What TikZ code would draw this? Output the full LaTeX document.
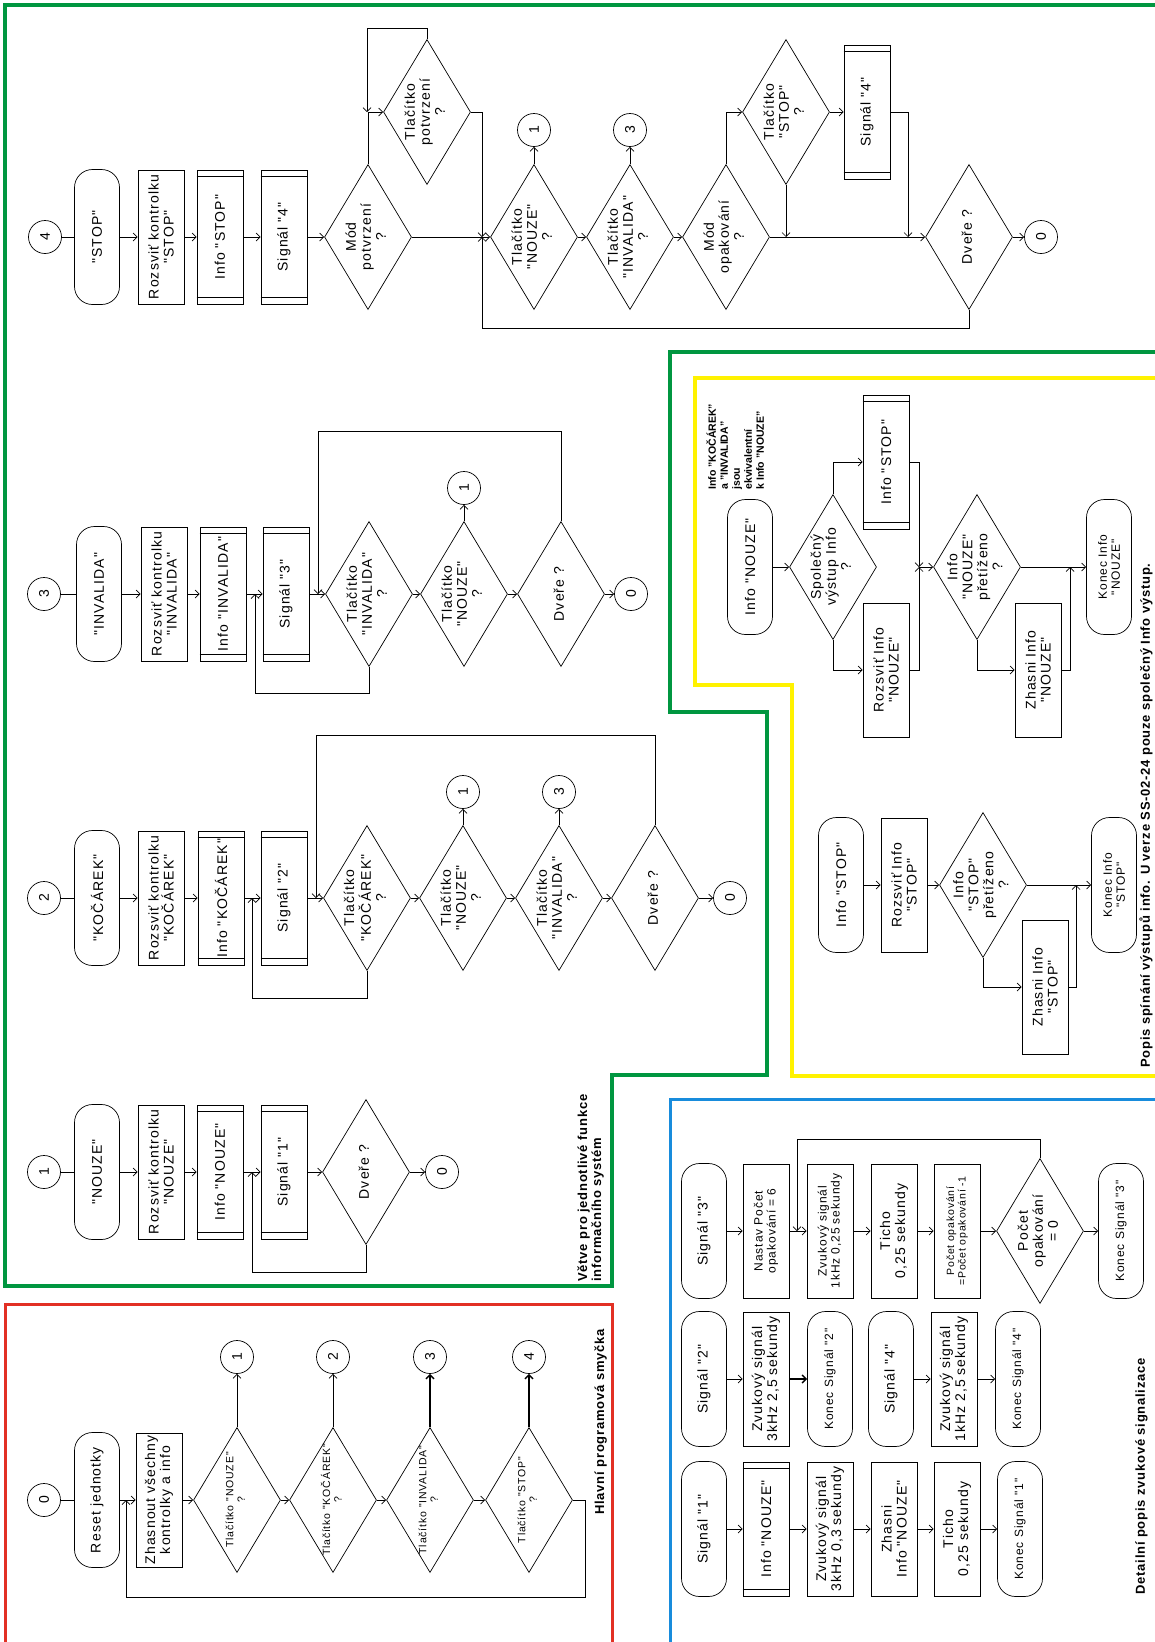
\documentclass[tikz,border=0pt]{standalone}
\usepackage{fontspec}
\setmainfont{Liberation Sans}
\newfontfamily\dfont{Liberation Sans}[LetterSpace=8.0]
\newfontfamily\lfont{Liberation Sans}[LetterSpace=6.0]
\usetikzlibrary{arrows.meta,shapes.geometric,calc}
\definecolor{branchgreen}{RGB}{0,150,64}
\definecolor{outyellow}{RGB}{255,242,0}
\definecolor{loopred}{RGB}{226,48,36}
\definecolor{soundblue}{RGB}{24,140,220}
\newcommand{\dtxt}[1]{\makebox[0pt]{\raisebox{-0.25em}[0pt][0pt]{\begin{tabular}{@{}c@{}}#1\end{tabular}}}}

\begin{document}
\begin{tikzpicture}[x=1pt, y=-1pt, line width=0.7pt,
    font=\dfont\fontsize{14}{15}\selectfont,
    shp/.style={draw, rotate=90, align=center, inner sep=1pt},
    term/.style={shp, rounded corners=18pt, minimum width=135pt, minimum height=45pt},
    proc/.style={shp, minimum width=134pt, minimum height=46pt, text width=132pt},
    pre/.style={proc, append after command={
        ($(\tikzlastnode.north west)!7pt!(\tikzlastnode.north east)$) edge ($(\tikzlastnode.south west)!7pt!(\tikzlastnode.south east)$)
        ($(\tikzlastnode.north east)!7pt!(\tikzlastnode.north west)$) edge ($(\tikzlastnode.south east)!7pt!(\tikzlastnode.south west)$)}},
    dec/.style={draw, diamond, rotate=90, minimum width=145pt, minimum height=87pt, inner sep=0pt},
    con/.style={draw, circle, rotate=90, minimum size=33pt, inner sep=0pt},
    arr/.style={-{Straight Barb[length=4pt,width=8pt]}},
    thk/.style={line width=1.5pt},
    sm/.style={font=\dfont\fontsize{12}{13}\selectfont},
    xs/.style={font=\dfont\fontsize{10.5}{11.5}\selectfont},
    lbl/.style={rotate=90, align=left, inner sep=0pt, font=\lfont\bfseries\fontsize{13}{14}\selectfont},
    note/.style={rotate=90, align=left, inner sep=0pt, font=\bfseries\fontsize{10.5}{12}\selectfont}]
  \useasboundingbox (0,0) rectangle (1155,1642);

  % frames
  \draw[branchgreen, line width=3.5pt] (1160,5) -- (5,5) -- (5,1286) -- (612,1286) -- (612,1075)
      -- (767,1075) -- (767,712) -- (670,712) -- (670,352) -- (1160,352);
  \draw[outyellow, line width=3.5pt] (1160,378) -- (695,378) -- (695,685) -- (792,685) -- (792,1076) -- (1160,1076);
  \draw[loopred, line width=3pt] (612,1650) -- (612,1304) -- (5,1304) -- (5,1650);
  \draw[soundblue, line width=3pt] (1160,1099) -- (670,1099) -- (670,1650);

  % STOP
  \node[con] (c4) at (45,237) {4};
  \node[term] (t4) at (97,237) {"STOP"};
  \node[proc] (r4) at (161,237) {Rozsviť kontrolku\\"STOP"};
  \node[pre] (i4) at (220,237) {Info "STOP"};
  \node[pre] (s4) at (284,237) {Signál "4"};
  \node[dec] (mp4) at (368,237) {\dtxt{Mód\\potvrzení\\?}};
  \node[dec] (tp4) at (427,112) {\dtxt{Tlačítko\\potvrzení\\?}};
  \node[dec] (tn4) at (534,237) {\dtxt{Tlačítko\\"NOUZE"\\?}};
  \node[con] (c41) at (534,130) {1};
  \node[dec] (ti4) at (630,237) {\dtxt{Tlačítko\\"INVALIDA"\\?}};
  \node[con] (c43) at (630,130) {3};
  \node[dec] (mo4) at (726,237) {\dtxt{Mód\\opakování\\?}};
  \node[dec] (ts4) at (786,112) {\dtxt{Tlačítko\\"STOP"\\?}};
  \node[pre] (s4b) at (867,112) {Signál "4"};
  \node[dec] (dv4) at (969,237) {\dtxt{Dveře ?}};
  \node[con] (c40) at (1041,237) {0};
  \coordinate (j4a) at (482,237);
  \coordinate (j4b) at (367,112);
  \coordinate (j4c) at (908,237);
  \draw (c4) -- (t4);
  \draw[arr] (t4) -- (r4);
  \draw[arr] (r4) -- (i4);
  \draw[arr] (i4) -- (s4);
  \draw[arr] (s4) -- (mp4);
  \draw[arr] (mp4.east) |- (tp4.north);
  \draw[arr] (tp4.east) -- ++(0,-11) -| (j4b);
  \draw[arr] (tp4.south) -| (j4a);
  \draw[arr] (mp4) -- (tn4);
  \draw[arr] (dv4.west) -- ++(0,18) -| (j4a);
  \draw[arr] (tn4) -- (c41);
  \draw[arr] (tn4) -- (ti4);
  \draw[arr] (ti4) -- (c43);
  \draw[arr] (ti4) -- (mo4);
  \draw[arr] (mo4.east) |- (ts4.north);
  \draw[arr] (ts4.west) -- (ts4.west |- mo4);
  \draw[arr] (ts4) -- (s4b);
  \draw[arr] (s4b) -| (j4c);
  \draw[arr] (mo4) -- (dv4);
  \draw[arr] (dv4) -- (c40);

  % INVALIDA
  \node[con] (c3) at (44,594) {3};
  \node[term] (t3) at (99,594) {"INVALIDA"};
  \node[proc] (r3) at (164,594) {Rozsviť kontrolku\\"INVALIDA"};
  \node[pre] (i3) at (223,594) {Info "INVALIDA"};
  \node[pre] (s3) at (286,594) {Signál "3"};
  \node[dec] (ti3) at (369,594) {\dtxt{Tlačítko\\"INVALIDA"\\?}};
  \node[dec] (tn3) at (464,594) {\dtxt{Tlačítko\\"NOUZE"\\?}};
  \node[con] (c31) at (464,488) {1};
  \node[dec] (dv3) at (561,594) {\dtxt{Dveře ?}};
  \node[con] (c30) at (631,594) {0};
  \coordinate (j3a) at (255,594);
  \coordinate (j3b) at (318,594);
  \draw (c3) -- (t3);
  \draw[arr] (t3) -- (r3);
  \draw[arr] (r3) -- (i3);
  \draw[arr] (i3) -- (s3);
  \draw[arr] (s3) -- (ti3);
  \draw[arr] (ti3) -- (tn3);
  \draw[arr] (tn3) -- (c31);
  \draw[arr] (tn3) -- (dv3);
  \draw[arr] (dv3) -- (c30);
  \draw[arr] (ti3.west) -- ++(0,26) -| (j3a);
  \draw[arr] (dv3.east) -- ++(0,-90) -| (j3b);

  % KOCAREK
  \node[con] (c2) at (44,898) {2};
  \node[term] (t2) at (97,898) {"KOČÁREK"};
  \node[proc] (r2) at (161,898) {Rozsviť kontrolku\\"KOČÁREK"};
  \node[pre] (i2) at (221,898) {Info "KOČÁREK"};
  \node[pre] (s2) at (284,898) {Signál "2"};
  \node[dec] (tk2) at (367,898) {\dtxt{Tlačítko\\"KOČÁREK"\\?}};
  \node[dec] (tn2) at (463,898) {\dtxt{Tlačítko\\"NOUZE"\\?}};
  \node[con] (c21) at (463,792) {1};
  \node[dec] (ti2) at (559,898) {\dtxt{Tlačítko\\"INVALIDA"\\?}};
  \node[con] (c23) at (559,792) {3};
  \node[dec] (dv2) at (655,898) {\dtxt{Dveře ?}};
  \node[con] (c20) at (730,898) {0};
  \coordinate (j2a) at (252,898);
  \coordinate (j2b) at (316,898);
  \draw (c2) -- (t2);
  \draw[arr] (t2) -- (r2);
  \draw[arr] (r2) -- (i2);
  \draw[arr] (i2) -- (s2);
  \draw[arr] (s2) -- (tk2);
  \draw[arr] (tk2) -- (tn2);
  \draw[arr] (tn2) -- (c21);
  \draw[arr] (tn2) -- (ti2);
  \draw[arr] (ti2) -- (c23);
  \draw[arr] (ti2) -- (dv2);
  \draw[arr] (dv2) -- (c20);
  \draw[arr] (tk2.west) -- ++(0,27) -| (j2a);
  \draw[arr] (dv2.east) -- ++(0,-90) -| (j2b);

  % NOUZE
  \node[con] (c1) at (44,1172) {1};
  \node[term] (t1) at (97,1172) {"NOUZE"};
  \node[proc] (r1) at (161,1172) {Rozsviť kontrolku\\"NOUZE"};
  \node[pre] (i1) at (220,1172) {Info "NOUZE"};
  \node[pre] (s1) at (284,1172) {Signál "1"};
  \node[dec] (dv1) at (366,1172) {\dtxt{Dveře ?}};
  \node[con] (c10) at (442,1172) {0};
  \coordinate (j1) at (252,1172);
  \draw (c1) -- (t1);
  \draw[arr] (t1) -- (r1);
  \draw[arr] (r1) -- (i1);
  \draw[arr] (i1) -- (s1);
  \draw[arr] (s1) -- (dv1);
  \draw[arr] (dv1) -- (c10);
  \draw[arr] (dv1.west) -- ++(0,27) -| (j1);
  \node[lbl, anchor=north west] (lblG) at (577,1282) {Větve pro jednotlivé funkce\\informačního systém};

  % main loop
  \node[con] (c0) at (44,1500) {0};
  \node[term] (t0) at (97,1500) {Reset jednotky};
  \node[proc] (z0) at (159,1500) {Zhasnout všechny\\kontrolky a info};
  \node[dec, xs] (d01) at (237,1500) {\dtxt{Tlačítko "NOUZE"\\?}};
  \node[dec, xs] (d02) at (333,1500) {\dtxt{Tlačítko "KOČÁREK"\\?}};
  \node[dec, xs] (d03) at (430,1500) {\dtxt{Tlačítko "INVALIDA"\\?}};
  \node[dec, xs] (d04) at (529,1500) {\dtxt{Tlačítko "STOP"\\?}};
  \node[con] (c01) at (237,1357) {1};
  \node[con] (c02) at (333,1357) {2};
  \node[con] (c03) at (430,1357) {3};
  \node[con] (c04) at (529,1357) {4};
  \coordinate (j0) at (126,1500);
  \draw (c0) -- (t0);
  \draw[arr] (t0) -- (z0);
  \draw[arr] (z0) -- (d01);
  \draw[arr] (d01) -- (d02);
  \draw[arr] (d02) -- (d03);
  \draw[arr] (d03) -- (d04);
  \draw[arr] (d01) -- (c01);
  \draw[arr] (d02) -- (c02);
  \draw[arr, thk] (d03) -- (c03);
  \draw[arr, thk] (d04) -- (c04);
  \draw[arr] (d04.south) -| ++(12,97) -| (j0);
  \node[lbl, anchor=north west] (lblR) at (594,1515) {Hlavní programová smyčka};

  % outputs
  \node[note, anchor=north west] (eq) at (706,490) {Info "KOČÁREK"\\a "INVALIDA"\\jsou\\ekvivalentní\\k Info "NOUZE"};
  \node[term] (yt1) at (750,567) {Info "NOUZE"};
  \node[dec] (yd1) at (833,567) {\dtxt{Společný\\výstup Info\\?}};
  \node[pre] (yp1) at (886,462) {Info "STOP"};
  \node[proc] (yr1) at (886,670) {Rozsviť Info\\"NOUZE"};
  \node[dec] (yd2) at (977,567) {\dtxt{Info\\"NOUZE"\\přetíženo\\?}};
  \node[proc] (yz1) at (1038,670) {Zhasni Info\\"NOUZE"};
  \node[term, sm] (yk1) at (1109,567) {Konec Info\\"NOUZE"};
  \coordinate (jy1) at (919,567);
  \coordinate (jy2) at (1070,567);
  \draw[arr] (yt1) -- (yd1);
  \draw[arr] (yd1.east) |- (yp1);
  \draw[arr] (yd1.west) |- (yr1);
  \draw[arr] (yp1) -| (jy1);
  \draw[arr] (yr1) -| (jy1);
  \draw[arr] (jy1) -- (yd2);
  \draw[arr] (yd2) -- (yk1);
  \draw[arr] (yd2.west) |- (yz1);
  \draw[arr] (yz1) -| (jy2);

  \node[term] (yt2) at (841,885) {Info "STOP"};
  \node[proc] (yr2) at (904,885) {Rozsviť Info\\"STOP"};
  \node[dec] (yd3) at (983,885) {\dtxt{Info\\"STOP"\\přetíženo\\?}};
  \node[proc] (yz2) at (1045,987) {Zhasni Info\\"STOP"};
  \node[term, sm] (yk2) at (1114,885) {Konec Info\\"STOP"};
  \coordinate (jy3) at (1076,885);
  \draw[arr] (yt2) -- (yr2);
  \draw[arr] (yr2) -- (yd3);
  \draw[arr] (yd3) -- (yk2);
  \draw[arr] (yd3.west) |- (yz2);
  \draw[arr] (yz2) -| (jy3);
  \node[lbl, anchor=north west] (lblY) at (1139,1068) {Popis spínání výstupů info. U verze SS-02-24 pouze společný Info výstup.};

  % sound
  \node[term] (b3) at (704,1231) {Signál "3"};
  \node[proc, sm] (b3a) at (766,1231) {Nastav Počet\\opakování = 6};
  \node[proc, sm] (b3b) at (830,1231) {Zvukový signál\\1kHz 0,25 sekundy};
  \node[proc] (b3c) at (894,1231) {Ticho\\0,25 sekundy};
  \node[proc, xs] (b3d) at (957,1231) {Počet opakování\\=Počet opakování -1};
  \node[dec] (b3e) at (1040,1231) {\dtxt{Počet\\opakování\\= 0}};
  \node[term, sm] (b3f) at (1121,1231) {Konec Signál "3"};
  \coordinate (jb3) at (797,1231);
  \draw[arr] (b3) -- (b3a);
  \draw[arr] (b3a) -- (b3b);
  \draw[arr] (b3b) -- (b3c);
  \draw[arr] (b3c) -- (b3d);
  \draw[arr] (b3d) -- (b3e);
  \draw[arr] (b3e) -- (b3f);
  \draw[arr] (b3e.east) -- ++(0,-19) -| (jb3);

  \node[term] (b2) at (704,1379) {Signál "2"};
  \node[proc] (b2a) at (766,1379) {Zvukový signál\\3kHz 2,5 sekundy};
  \node[term, sm] (b2b) at (830,1379) {Konec Signál "2"};
  \node[term] (b4) at (891,1379) {Signál "4"};
  \node[proc] (b4a) at (954,1379) {Zvukový signál\\1kHz 2,5 sekundy};
  \node[term, sm] (b4b) at (1018,1379) {Konec Signál "4"};
  \draw[arr] (b2) -- (b2a);
  \draw[arr, thk] (b2a) -- (b2b);
  \draw[arr] (b4) -- (b4a);
  \draw[arr] (b4a) -- (b4b);

  \node[term] (b1) at (704,1529) {Signál "1"};
  \node[pre] (b1a) at (766,1529) {Info "NOUZE"};
  \node[proc] (b1b) at (830,1529) {Zvukový signál\\3kHz 0,3 sekundy};
  \node[proc] (b1c) at (894,1529) {Zhasni\\Info "NOUZE"};
  \node[proc] (b1d) at (957,1529) {Ticho\\0,25 sekundy};
  \node[term, sm] (b1e) at (1020,1529) {Konec Signál "1"};
  \draw[arr] (b1) -- (b1a);
  \draw[arr] (b1a) -- (b1b);
  \draw[arr] (b1b) -- (b1c);
  \draw[arr] (b1c) -- (b1d);
  \draw[arr] (b1d) -- (b1e);
  \node[lbl, anchor=north west] (lblB) at (1135,1595) {Detailní popis zvukové signalizace};
\end{tikzpicture}
\end{document}
